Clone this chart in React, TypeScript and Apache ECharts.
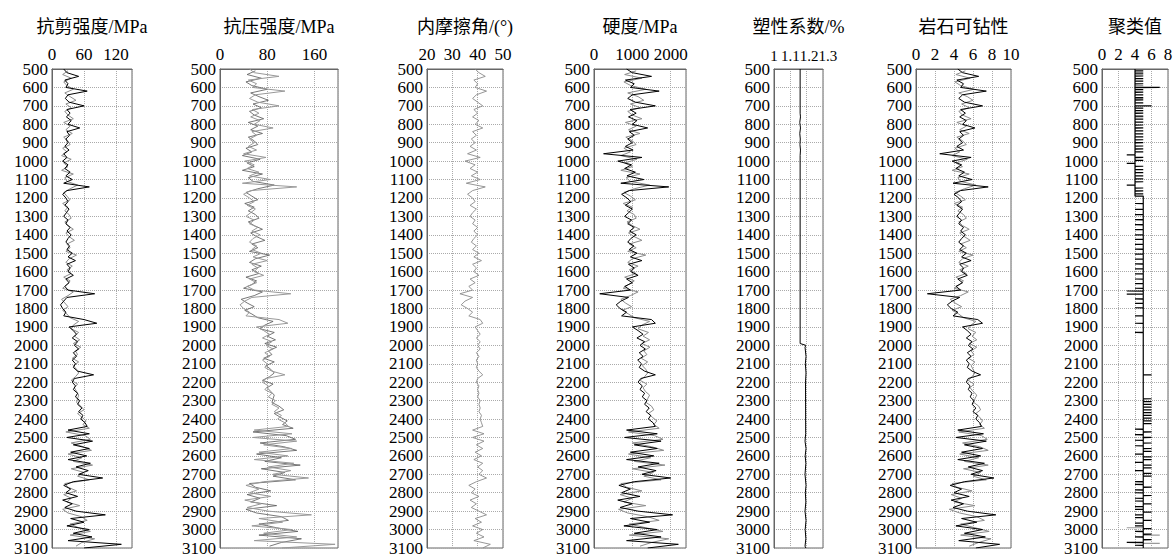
import React, { useEffect, useRef } from "react";
import * as echarts from "echarts";

// ---- depth sampling ----
const DEPTH_MIN = 500;
const DEPTH_MAX = 3100;
const DEPTH_TICK = 100;
const MAIN_START = 500;
const MAIN_STEP = 20;
const SUB_START = 510;
const SUB_STEP = 20;

// ---- panel titles ----
const TITLES = ["抗剪强度/MPa", "抗压强度/MPa", "内摩擦角/(°)", "硬度/MPa", "塑性系数/%", "岩石可钻性", "聚类值"];

// ---- 抗剪强度 (MPa) ----
const SHEAR = [
  22, 28, 50, 24, 30, 26, 66, 30, 25, 32,
  60, 28, 34, 27, 36, 30, 52, 28, 33, 26,
  30, 24, 32, 22, 28, 20, 30, 24, 34, 26,
  38, 22, 70, 28, 20, 26, 30, 24, 32, 27,
  22, 30, 26, 34, 28, 36, 30, 26, 33, 28,
  38, 30, 44, 28, 34, 30, 40, 26, 32, 24,
  30, 80, 28, 22, 16, 20, 26, 22, 60, 84,
  32, 40, 46, 38, 48, 42, 50, 40, 46, 38,
  44, 40, 48, 78, 42, 38, 44, 40, 48, 44,
  52, 48, 56, 50, 58, 54, 62, 66, 30, 70,
  28, 76, 40, 70, 35, 65, 30, 72, 45, 68,
  50, 95, 40, 22, 35, 26, 48, 20, 38, 24,
  45, 100, 35, 60, 28, 70, 40, 75, 30, 130,
  60,
];
const SHEAR_B = [
  30, 20, 36, 22, 28, 40, 24, 34, 45, 26,
  36, 24, 30, 40, 22, 34, 26, 38, 22, 30,
  34, 20, 28, 18, 36, 22, 30, 18, 40, 24,
  28, 48, 34, 22, 28, 34, 20, 30, 24, 32,
  36, 24, 30, 40, 26, 32, 42, 28, 34, 26,
  46, 32, 26, 38, 28, 36, 22, 34, 28, 20,
  40, 30, 18, 24, 30, 20, 28, 34, 50, 40,
  36, 50, 42, 52, 40, 54, 44, 48, 38, 50,
  40, 46, 50, 44, 36, 48, 42, 46, 50, 48,
  46, 54, 60, 48, 56, 64, 58, 70, 26, 62,
  72, 36, 58, 74, 30, 56, 40, 76, 36, 60,
  48, 70, 24, 30, 46, 22, 36, 28, 52, 20,
  30, 55, 66, 34, 50, 72, 34, 80, 56, 45,
];

// ---- 抗压强度 (MPa) ----
const COMP = [
  50, 58, 100, 48, 62, 55, 110, 60, 50, 64,
  100, 55, 66, 52, 68, 58, 90, 54, 62, 50,
  58, 48, 62, 40, 78, 42, 58, 46, 66, 50,
  85, 38, 130, 52, 40, 50, 58, 46, 60, 52,
  44, 58, 50, 64, 54, 68, 56, 50, 62, 54,
  70, 56, 80, 54, 64, 58, 74, 50, 62, 46,
  58, 120, 54, 42, 34, 40, 50, 44, 100, 115,
  62, 74, 84, 72, 88, 78, 90, 76, 84, 72,
  80, 76, 88, 110, 78, 72, 82, 76, 88, 82,
  94, 88, 100, 92, 104, 98, 110, 116, 58, 122,
  56, 130, 74, 122, 66, 115, 58, 125, 82, 120,
  90, 150, 74, 44, 66, 50, 86, 42, 70, 46,
  82, 155, 66, 106, 54, 122, 74, 130, 58, 195,
  105,
];
const COMP_B = [
  60, 46, 70, 44, 54, 80, 52, 66, 82, 56,
  70, 50, 58, 74, 48, 64, 52, 72, 48, 58,
  64, 44, 54, 38, 68, 46, 58, 38, 72, 48,
  56, 92, 64, 44, 54, 64, 42, 58, 48, 60,
  66, 48, 58, 72, 52, 62, 76, 54, 64, 50,
  84, 60, 50, 70, 54, 66, 44, 62, 54, 40,
  72, 58, 36, 46, 58, 42, 54, 64, 90, 76,
  68, 92, 80, 94, 76, 96, 82, 88, 74, 92,
  78, 86, 92, 84, 72, 90, 80, 86, 92, 90,
  88, 100, 108, 92, 102, 114, 106, 124, 56, 112,
  128, 68, 108, 130, 62, 104, 76, 136, 70, 110,
  90, 128, 50, 60, 86, 46, 68, 52, 96, 44,
  62, 104, 116, 66, 96, 132, 66, 138, 104, 84,
];

// ---- 内摩擦角 (°) ----
const FRIC = [
  39, 40.5, 43, 38.5, 40, 39, 43.5, 39.5, 38, 40,
  42, 38.5, 40, 38, 40.5, 39, 42, 38, 39.5, 37.5,
  39, 37, 39.5, 36, 41, 35, 39, 37, 40, 37.5,
  41, 35.5, 43, 38, 36, 38, 39, 37, 39.5, 38,
  37, 39, 38, 40, 38.5, 40, 38.5, 37.5, 39.5, 38,
  40.5, 38.5, 41.5, 38, 39.5, 38.5, 40.5, 37, 39, 36.5,
  38, 33, 38, 35, 33.5, 36, 38, 36.5, 41, 42,
  39, 40, 41, 39.5, 41, 40, 41, 39.5, 40.5, 39.5,
  40, 39.5, 40.5, 42, 40, 39.5, 40.5, 40, 40.5, 40,
  41, 40.5, 41, 40.5, 41.5, 41, 41.5, 42, 38, 42.5,
  38, 42.5, 39.5, 42, 39, 41.5, 38.5, 42, 40, 42,
  40.5, 43.5, 39.5, 36.5, 39, 37.5, 40.5, 37, 39.5, 37.5,
  40.5, 43.5, 39, 41.5, 38, 42, 39.5, 42.5, 38.5, 45,
  42,
];

// ---- 硬度 (MPa) ----
const HARD = [
  850, 1000, 1500, 820, 1050, 950, 1700, 1000, 880, 1080,
  1600, 940, 1100, 900, 1120, 1000, 1400, 920, 1050, 880,
  1000, 820, 1020, 250, 1250, 620, 980, 800, 1080, 860,
  1300, 700, 1950, 920, 720, 860, 960, 820, 1000, 900,
  800, 980, 880, 1050, 930, 1100, 960, 880, 1040, 920,
  1120, 950, 1250, 900, 1050, 960, 1150, 850, 1000, 800,
  950, 150, 900, 700, 580, 680, 850, 720, 1500, 1600,
  1000, 1150, 1280, 1120, 1320, 1200, 1340, 1180, 1280, 1140,
  1240, 1180, 1320, 1600, 1220, 1150, 1260, 1200, 1320, 1260,
  1380, 1320, 1440, 1360, 1480, 1420, 1540, 1600, 850, 1650,
  800, 1750, 1050, 1650, 950, 1560, 850, 1700, 1150, 1620,
  1250, 2000, 1050, 650, 950, 720, 1200, 620, 1000, 680,
  1150, 2050, 950, 1450, 780, 1650, 1050, 1750, 850, 2200,
  1400,
];
const HARD_B = [
  1100, 800, 1250, 780, 960, 1350, 880, 1150, 1300, 950,
  1200, 880, 1000, 1250, 820, 1100, 900, 1200, 830, 1000,
  1100, 780, 950, 700, 1120, 800, 1000, 700, 1200, 840,
  950, 1450, 1050, 780, 950, 1080, 760, 1000, 860, 1050,
  1100, 860, 1000, 1200, 900, 1050, 1250, 920, 1100, 880,
  1350, 1000, 880, 1150, 920, 1100, 800, 1050, 900, 760,
  1150, 950, 700, 820, 980, 740, 900, 1050, 1450, 1250,
  1150, 1420, 1280, 1450, 1250, 1460, 1300, 1380, 1230, 1400,
  1260, 1350, 1400, 1320, 1200, 1380, 1280, 1340, 1450, 1400,
  1360, 1500, 1560, 1420, 1520, 1640, 1560, 1700, 900, 1580,
  1800, 1000, 1500, 1820, 900, 1480, 1050, 1850, 1000, 1550,
  1300, 1750, 700, 850, 1250, 680, 1000, 780, 1350, 640,
  880, 1400, 1700, 920, 1350, 1800, 920, 1950, 1500, 1200,
];

// ---- 塑性系数 (%) ----
const PLAST_DEPTHS = [500, 740, 760, 790, 820, 850, 880, 910, 940, 970, 1990, 2000, 2010, 2060, 2100, 2150, 2200, 2480, 2520, 2560, 2600, 2640, 2700, 2760, 2800, 2850, 2900, 2950, 3000, 3050, 3090, 3100];
const PLAST_VALUES = [1.16, 1.16, 1.162, 1.158, 1.162, 1.158, 1.161, 1.159, 1.162, 1.16, 1.16, 1.195, 1.19, 1.196, 1.192, 1.196, 1.193, 1.194, 1.19, 1.196, 1.191, 1.195, 1.19, 1.196, 1.192, 1.195, 1.19, 1.196, 1.191, 1.195, 1.19, 1.195];

// ---- 岩石可钻性 ----
const DRILL = [
  4.4, 4.9, 6.6, 4.3, 5.0, 4.7, 7.4, 4.9, 4.5, 5.1,
  7.0, 4.7, 5.2, 4.6, 5.3, 4.9, 6.2, 4.6, 5.0, 4.5,
  4.9, 4.3, 5.0, 2.5, 5.8, 3.8, 4.8, 4.2, 5.1, 4.5,
  5.9, 3.9, 7.6, 4.7, 4.0, 4.5, 4.8, 4.3, 4.9, 4.6,
  4.3, 4.8, 4.5, 5.0, 4.7, 5.2, 4.8, 4.5, 5.0, 4.6,
  5.3, 4.8, 5.8, 4.6, 5.0, 4.8, 5.4, 4.4, 4.9, 4.2,
  4.7, 1.2, 4.6, 3.8, 3.3, 3.7, 4.4, 3.9, 6.5, 7.0,
  4.9, 5.4, 5.8, 5.3, 5.9, 5.5, 6.0, 5.4, 5.8, 5.3,
  5.6, 5.4, 5.9, 6.8, 5.5, 5.3, 5.7, 5.5, 5.9, 5.7,
  6.1, 5.9, 6.3, 6.0, 6.5, 6.3, 6.7, 6.9, 4.4, 7.1,
  4.2, 7.4, 5.1, 7.0, 4.8, 6.8, 4.4, 7.2, 5.5, 7.0,
  5.8, 8.2, 5.1, 3.6, 4.8, 4.0, 5.6, 3.7, 5.0, 3.9,
  5.4, 8.4, 4.8, 6.4, 4.2, 7.0, 5.1, 7.3, 4.5, 8.8,
  6.3,
];
const DRILL_B = [
  5.2, 4.2, 5.7, 4.1, 4.7, 6.1, 4.5, 5.4, 6.0, 4.8,
  5.6, 4.5, 4.9, 5.8, 4.3, 5.3, 4.6, 5.6, 4.3, 4.9,
  5.3, 4.1, 4.6, 3.8, 5.4, 4.2, 4.9, 3.8, 5.6, 4.4,
  4.7, 6.3, 5.1, 4.1, 4.7, 5.2, 4.0, 4.9, 4.4, 5.0,
  5.3, 4.5, 4.9, 5.6, 4.6, 5.1, 5.7, 4.7, 5.3, 4.5,
  6.0, 4.9, 4.5, 5.5, 4.6, 5.3, 4.2, 5.0, 4.6, 4.0,
  5.5, 4.7, 3.6, 4.1, 4.8, 3.8, 4.5, 5.0, 6.3, 5.8,
  5.5, 6.3, 5.9, 6.4, 5.6, 6.4, 5.8, 6.1, 5.5, 6.2,
  5.8, 6.0, 6.2, 5.9, 5.5, 6.1, 5.7, 6.0, 6.4, 6.2,
  6.1, 6.6, 6.8, 6.3, 6.7, 7.0, 6.7, 7.2, 4.5, 6.9,
  7.5, 4.9, 6.7, 7.6, 4.6, 6.6, 5.1, 7.6, 5.0, 6.8,
  6.0, 7.4, 3.8, 4.3, 5.9, 3.7, 4.8, 4.0, 6.2, 3.5,
  4.6, 6.4, 7.2, 4.7, 6.2, 7.7, 4.7, 7.9, 6.6, 5.6,
];

// ---- 聚类值 ----
const CLUSTER_ZONE_TOPS = [500, 1190];
const CLUSTER_ZONE_BOTTOMS = [1190, 3100];
const CLUSTER_ZONE_BASE = [4, 5];
const CLUSTER_DEPTHS = [
  510, 522, 538, 552, 566, 580, 600, 612, 626, 640, 655, 668, 684, 700, 712, 726, 740, 756, 772, 788,
  804, 820, 836, 852, 868, 884, 900, 918, 934, 950, 966, 980, 996, 1012, 1028, 1046, 1062, 1080, 1096, 1112,
  1130, 1146, 1162, 1178,
  1230, 1262, 1290, 1318, 1345, 1372, 1400, 1425, 1452, 1478, 1505, 1532, 1558, 1585, 1612, 1640, 1665, 1690,
  1705, 1722, 1748, 1772, 1796, 1840, 1880, 1930, 2160,
  2290, 2305, 2320, 2335, 2350, 2365, 2380, 2395, 2410, 2425, 2455, 2470, 2485, 2500, 2515, 2530, 2545, 2560,
  2575, 2590, 2605, 2620, 2635, 2650, 2665, 2680, 2695, 2710, 2740, 2755, 2770, 2785, 2800, 2815, 2830, 2845,
  2860, 2875, 2890, 2905, 2920, 2935, 2950, 2965, 2980, 2995, 3010, 3025, 3040, 3055, 3070, 3085,
];
const CLUSTER_VALUES = [
  5, 5, 5, 5, 5, 5, 7, 5, 5, 5, 5, 5, 5, 6, 5, 5, 5, 5, 5, 5,
  5, 5, 5, 5, 5, 5, 5, 5, 5, 5, 3, 5, 5, 3, 5, 5, 5, 5, 5, 5,
  3, 5, 5, 5,
  4, 4, 4, 4, 4, 4, 4, 4, 4, 4, 4, 4, 4, 4, 4, 4, 4, 4,
  3, 3, 4, 4, 4, 4, 4, 4, 6,
  6, 6, 6, 6, 6, 6, 6, 6, 6, 6, 4, 6, 4, 6, 4, 6, 4, 6,
  6, 4, 6, 6, 4, 6, 6, 4, 6, 6, 4, 4, 6, 4, 4, 6, 4, 4,
  6, 4, 4, 6, 4, 4, 6, 4, 4, 6, 4, 6, 4, 6, 3, 4,
];
const CLUSTER_GRAY_DEPTHS = [530, 590, 660, 760, 2990, 3030, 3075];
const CLUSTER_GRAY_VALUES = [5, 5, 5, 5, 3, 7, 7];

const FONT = "'Liberation Serif', 'Noto Sans CJK SC', serif";

function gridPairs(values: number[], start: number, step: number) {
  return values.map((v, i) => [v, start + i * step]);
}

function zoneBase(d: number) {
  for (let z = 0; z < CLUSTER_ZONE_TOPS.length; z++) {
    if (d >= CLUSTER_ZONE_TOPS[z] && d < CLUSTER_ZONE_BOTTOMS[z]) return CLUSTER_ZONE_BASE[z];
  }
  return CLUSTER_ZONE_BASE[CLUSTER_ZONE_BASE.length - 1];
}

function clusterLine() {
  const pts: number[][] = [];
  for (let z = 0; z < CLUSTER_ZONE_TOPS.length; z++) {
    const base = CLUSTER_ZONE_BASE[z];
    pts.push([base, CLUSTER_ZONE_TOPS[z]]);
    CLUSTER_DEPTHS.forEach((d, i) => {
      if (d >= CLUSTER_ZONE_TOPS[z] && d < CLUSTER_ZONE_BOTTOMS[z]) {
        pts.push([base, d - 0.6], [CLUSTER_VALUES[i], d], [base, d + 0.6]);
      }
    });
    pts.push([base, CLUSTER_ZONE_BOTTOMS[z]]);
  }
  return pts;
}

function fmt(v: number) {
  return String(parseFloat(v.toFixed(3)));
}

// approximate advance width of a number string in a Times-like face
function textWidth(s: string, size: number) {
  let w = 0;
  for (const ch of s) w += ch === "." ? 0.25 * size : 0.5 * size;
  return w;
}

type Panel = {
  left: number;
  width: number;
  min: number;
  max: number;
  interval: number;
  showMax: boolean;
  labelSize: number;
  series: { data: number[][]; color: string; width: number }[];
};

export default function App() {
  const ref = useRef<HTMLDivElement>(null);
  useEffect(() => {
    if (!ref.current) return;
    const chart = echarts.init(ref.current, undefined, { renderer: "svg" });
    const panels: Panel[] = [
      {
        left: 52, width: 80, min: 0, max: 150, interval: 60, showMax: false, labelSize: 17,
        series: [
          { data: gridPairs(SHEAR_B, SUB_START, SUB_STEP), color: "#8c8c8c", width: 1 },
          { data: gridPairs(SHEAR, MAIN_START, MAIN_STEP), color: "#000", width: 1 },
        ],
      },
      {
        left: 220, width: 118, min: 0, max: 200, interval: 80, showMax: false, labelSize: 17,
        series: [
          { data: gridPairs(COMP_B, SUB_START, SUB_STEP), color: "#555", width: 0.8 },
          { data: gridPairs(COMP, MAIN_START, MAIN_STEP), color: "#999", width: 1 },
        ],
      },
      {
        left: 427, width: 76, min: 20, max: 50, interval: 10, showMax: true, labelSize: 17,
        series: [{ data: gridPairs(FRIC, MAIN_START, MAIN_STEP), color: "#8a8a8a", width: 0.9 }],
      },
      {
        left: 594, width: 92, min: 0, max: 2400, interval: 1000, showMax: false, labelSize: 17,
        series: [
          { data: gridPairs(HARD_B, SUB_START, SUB_STEP), color: "#8c8c8c", width: 1 },
          { data: gridPairs(HARD, MAIN_START, MAIN_STEP), color: "#000", width: 1 },
        ],
      },
      {
        left: 774, width: 49, min: 1, max: 1.3, interval: 0.1, showMax: true, labelSize: 15,
        series: [{ data: PLAST_DEPTHS.map((d, i) => [PLAST_VALUES[i], d]), color: "#000", width: 1 }],
      },
      {
        left: 916, width: 95, min: 0, max: 10, interval: 2, showMax: true, labelSize: 17,
        series: [
          { data: gridPairs(DRILL_B, SUB_START, SUB_STEP), color: "#8c8c8c", width: 1 },
          { data: gridPairs(DRILL, MAIN_START, MAIN_STEP), color: "#000", width: 1 },
        ],
      },
      {
        left: 1102, width: 66, min: 0, max: 8, interval: 2, showMax: true, labelSize: 17,
        series: [
          ...CLUSTER_GRAY_DEPTHS.map((d, i) => ({
            data: [[zoneBase(d), d], [CLUSTER_GRAY_VALUES[i], d]],
            color: "#9a9a9a",
            width: 1.2,
          })),
          { data: clusterLine(), color: "#000", width: 1.2 },
        ],
      },
    ];

    const grid: any[] = [];
    const xAxis: any[] = [];
    const yAxis: any[] = [];
    const series: any[] = [];
    panels.forEach((p, i) => {
      grid.push({
        left: p.left, top: 69, width: p.width, height: 479,
        show: true, borderColor: "#666", borderWidth: 1, backgroundColor: "transparent",
      });
      xAxis.push({
        gridIndex: i, type: "value", position: "top", min: p.min, max: p.max, interval: p.interval,
        name: TITLES[i], nameLocation: "middle", nameGap: 33,
        nameTextStyle: { fontSize: 18, color: "#000", fontFamily: FONT },
        axisLine: { show: true, lineStyle: { color: "#666", width: 1 } },
        axisTick: { show: false },
        axisLabel: { show: false },
        splitLine: { show: true, lineStyle: { type: "dotted", color: "#aaa", width: 1 } },
      });
      yAxis.push({
        gridIndex: i, type: "value", inverse: true, min: DEPTH_MIN, max: DEPTH_MAX, interval: DEPTH_TICK,
        axisLine: { show: true, lineStyle: { color: "#666", width: 1 } },
        axisTick: { show: false },
        axisLabel: { fontSize: 17, color: "#000", margin: 4, fontFamily: FONT, formatter: (v: number) => fmt(v) },
        splitLine: { show: true, lineStyle: { type: "dotted", color: "#aaa", width: 1 } },
      });
      p.series.forEach((s) => {
        series.push({
          type: "line", xAxisIndex: i, yAxisIndex: i, data: s.data,
          showSymbol: false, symbol: "none", silent: true, clip: true,
          lineStyle: { color: s.color, width: s.width },
        });
      });
    });

    chart.setOption({
      animation: false,
      backgroundColor: "#fff",
      textStyle: { fontFamily: FONT },
      grid, xAxis, yAxis, series,
    });

    // top tick labels, placed through each axis's own scale; crowded labels are pushed right
    const graphic: any[] = [];
    panels.forEach((p, i) => {
      let lastRight = -Infinity;
      for (let k = 0; ; k++) {
        const v = p.min + k * p.interval;
        if (v > p.max + 1e-9) break;
        if (!p.showMax && Math.abs(v - p.max) < 1e-9) break;
        const text = fmt(v);
        const w = textWidth(text, p.labelSize);
        const cx = chart.convertToPixel({ xAxisIndex: i }, v) as number;
        const left = Math.max(cx - w / 2, lastRight);
        lastRight = left + w;
        graphic.push({
          type: "text", x: left, y: 63,
          style: { text, fontSize: p.labelSize, fill: "#000", fontFamily: FONT, align: "left", verticalAlign: "bottom" },
          silent: true,
        });
      }
    });
    chart.setOption({ graphic });
    return () => chart.dispose();
  }, []);
  return <div ref={ref} style={{ position: "fixed", left: 0, top: 0, width: 1175, height: 557 }} />;
}
